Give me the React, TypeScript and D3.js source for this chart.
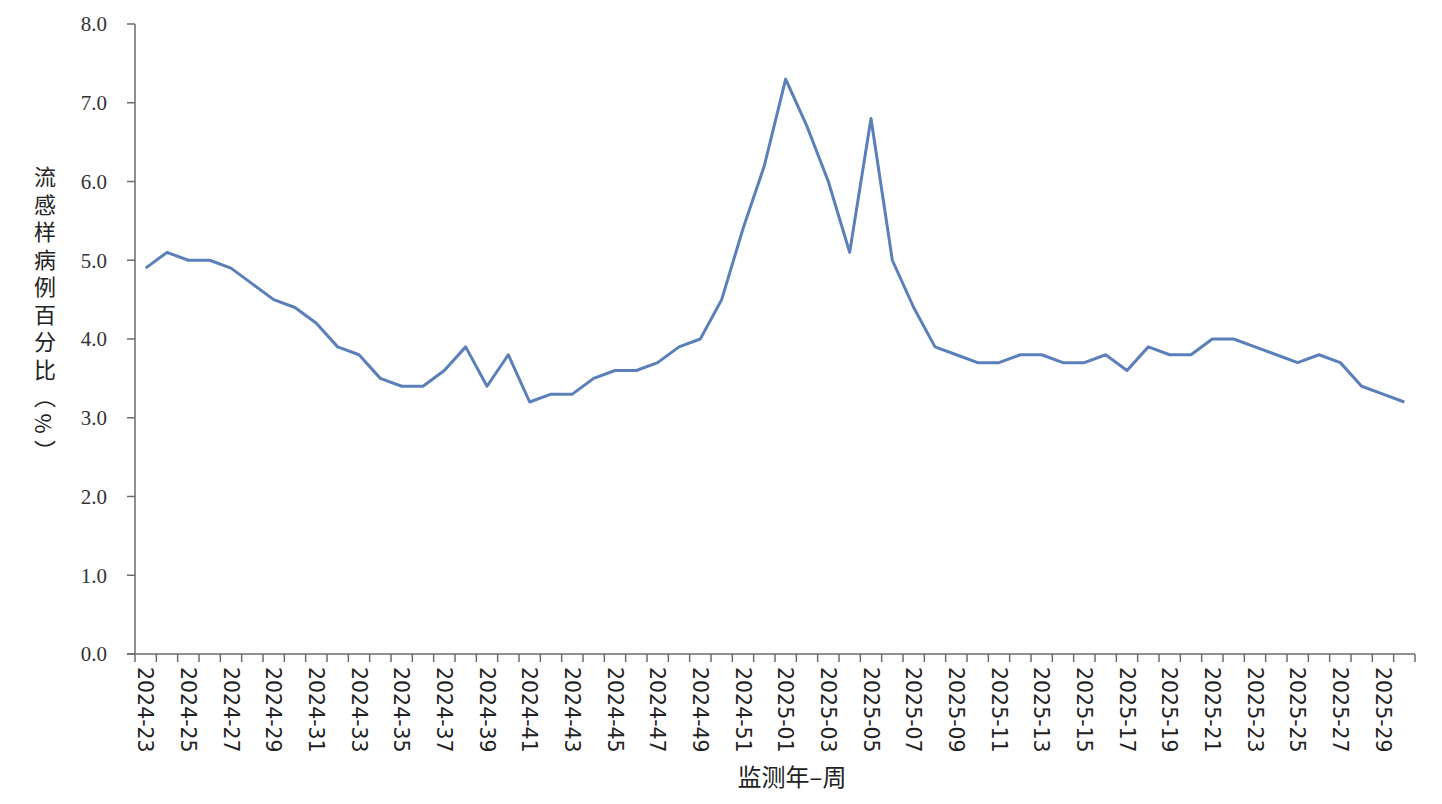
import React, { useEffect, useRef } from 'react';
import * as d3 from 'd3';

const weeks = [
  '2024-23', '2024-24', '2024-25', '2024-26', '2024-27', '2024-28', '2024-29', '2024-30',
  '2024-31', '2024-32', '2024-33', '2024-34', '2024-35', '2024-36', '2024-37', '2024-38',
  '2024-39', '2024-40', '2024-41', '2024-42', '2024-43', '2024-44', '2024-45', '2024-46',
  '2024-47', '2024-48', '2024-49', '2024-50', '2024-51', '2024-52',
  '2025-01', '2025-02', '2025-03', '2025-04', '2025-05', '2025-06', '2025-07', '2025-08',
  '2025-09', '2025-10', '2025-11', '2025-12', '2025-13', '2025-14', '2025-15', '2025-16',
  '2025-17', '2025-18', '2025-19', '2025-20', '2025-21', '2025-22', '2025-23', '2025-24',
  '2025-25', '2025-26', '2025-27', '2025-28', '2025-29', '2025-30'
];

const ratio = [
  4.9, 5.1, 5.0, 5.0, 4.9, 4.7, 4.5, 4.4, 4.2, 3.9, 3.8, 3.5, 3.4, 3.4, 3.6, 3.9,
  3.4, 3.8, 3.2, 3.3, 3.3, 3.5, 3.6, 3.6, 3.7, 3.9, 4.0, 4.5, 5.4, 6.2,
  7.3, 6.7, 6.0, 5.1, 6.8, 5.0, 4.4, 3.9, 3.8, 3.7, 3.7, 3.8, 3.8, 3.7, 3.7, 3.8,
  3.6, 3.9, 3.8, 3.8, 4.0, 4.0, 3.9, 3.8, 3.7, 3.8, 3.7, 3.4, 3.3, 3.2
];

const yTicks = [0, 1, 2, 3, 4, 5, 6, 7, 8];
const yTitle = '流感样病例百分比（%）';
const xTitle = '监测年–周';

const App = () => {
  const chartRef = useRef<SVGSVGElement>(null);

  useEffect(() => {
    document.body.style.margin = '0';
    drawChart();
  }, []);

  const drawChart = () => {
    const width = 1442;
    const height = 804;
    const axisColor = '#6b6b6b';

    const svg = d3.select(chartRef.current)
      .attr('width', width)
      .attr('height', height)
      .style('display', 'block')
      .style('background', '#fff');
    svg.selectAll('*').remove();

    const x = d3.scaleBand<string>().domain(weeks).range([135, 1415]);
    const y = d3.scaleLinear().domain([0, 8]).range([654, 24]);

    // y axis
    const yAxis = svg.append('g');
    yAxis.append('line')
      .attr('x1', 135).attr('x2', 135)
      .attr('y1', y(8)).attr('y2', y(0))
      .attr('stroke', axisColor).attr('stroke-width', 1.5);
    yAxis.selectAll('line.tick')
      .data(yTicks)
      .join('line')
      .attr('class', 'tick')
      .attr('x1', 127).attr('x2', 135)
      .attr('y1', d => y(d)).attr('y2', d => y(d))
      .attr('stroke', axisColor).attr('stroke-width', 1.5);
    yAxis.selectAll('text')
      .data(yTicks)
      .join('text')
      .attr('x', 107)
      .attr('y', d => y(d))
      .attr('dy', '0.35em')
      .attr('text-anchor', 'end')
      .attr('font-family', '"Liberation Serif", "Times New Roman", serif')
      .attr('font-size', 21)
      .attr('fill', '#333')
      .text(d => d3.format('.1f')(d));

    // x axis
    const xAxis = svg.append('g');
    xAxis.append('line')
      .attr('x1', 127).attr('x2', 1415)
      .attr('y1', y(0)).attr('y2', y(0))
      .attr('stroke', axisColor).attr('stroke-width', 1.5);
    const bounds = weeks.map(w => x(w) as number).concat([x.range()[1]]);
    xAxis.selectAll('line.tick')
      .data(bounds)
      .join('line')
      .attr('class', 'tick')
      .attr('x1', d => d).attr('x2', d => d)
      .attr('y1', y(0)).attr('y2', y(0) + 8)
      .attr('stroke', axisColor).attr('stroke-width', 1.5);
    xAxis.selectAll('text')
      .data(weeks.filter((_, i) => i % 2 === 0))
      .join('text')
      .attr('transform', d => `translate(${(x(d) as number) + x.bandwidth() / 2},667) rotate(90)`)
      .attr('dy', '0.35em')
      .attr('font-family', '"DejaVu Sans", Verdana, sans-serif')
      .attr('font-size', 20.5)
      .attr('fill', '#222')
      .text(d => d);

    // axis titles
    svg.append('text')
      .attr('x', 792)
      .attr('y', 786)
      .attr('text-anchor', 'middle')
      .attr('font-family', '"Noto Sans CJK SC", sans-serif')
      .attr('font-size', 24)
      .attr('fill', '#222')
      .text(xTitle);

    svg.append('text')
      .attr('x', 45)
      .attr('y', 166)
      .style('writing-mode', 'vertical-rl')
      .attr('letter-spacing', 5.5)
      .attr('font-family', '"Noto Sans CJK SC", sans-serif')
      .attr('font-size', 22)
      .attr('fill', '#222')
      .text(yTitle);

    // line
    const line = d3.line<number>()
      .x((_, i) => (x(weeks[i]) as number) + x.bandwidth() / 2)
      .y(d => y(d));

    svg.append('path')
      .datum(ratio)
      .attr('d', line)
      .attr('fill', 'none')
      .attr('stroke', '#5b7fb8')
      .attr('stroke-width', 3)
      .attr('stroke-linejoin', 'round');
  };

  return <svg ref={chartRef}></svg>;
};

export default App;
